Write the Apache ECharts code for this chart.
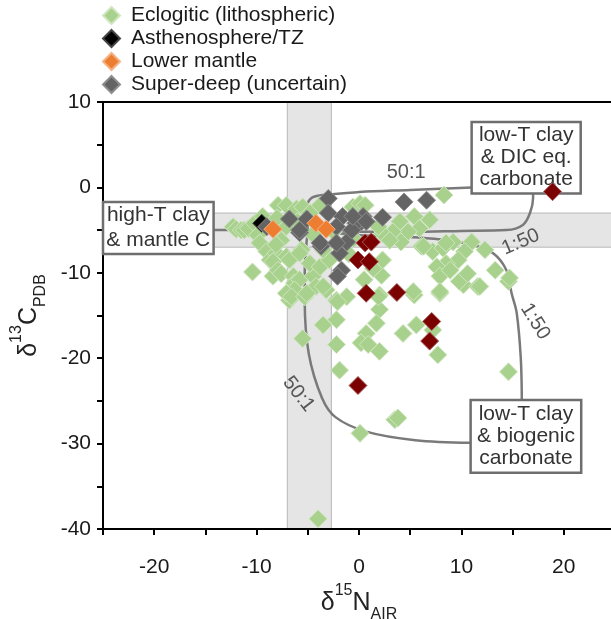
<!DOCTYPE html>
<html>
<head>
<meta charset="utf-8">
<script src="https://cdn.jsdelivr.net/npm/echarts@6/dist/echarts.min.js"></script>
<style>
html, body { margin: 0; padding: 0; background: #fff; }
#main { width: 611px; height: 619px; }
</style>
</head>
<body>
<div id="main"></div>
<script>
// data: [d15N, d13C]
var eclogitic = [
    [-12.3, -4.6], [-12.0, -4.9], [-11.5, -5.0], [-11.2, -5.0], [-10.8, -4.8], [-10.2, -4.2], [-9.9, -5.6], [-9.4, -3.4],
    [-10.4, -9.9],
    [-7.9, -2.1], [-7.1, -2.1], [-6.1, -2.5], [-5.5, -2.3], [-3.8, -2.1], [-7.1, -4.6], [-4.8, -3.0], [-0.6, -2.3], [0.1, -1.9], [0.6, -2.1],
    [-9.7, -6.5], [-9.0, -7.5], [-8.7, -8.5], [-8.4, -10.4], [-8.1, -7.7], [-7.6, -6.2], [-8.1, -6.7], [-7.1, -8.1], [-8.4, -8.7], [-7.9, -9.7],
    [-6.8, -8.5], [-5.6, -7.3], [-5.8, -7.7], [-7.6, -10.1], [-6.4, -10.4], [-6.3, -11.2], [-5.8, -10.8], [-6.6, -12.4], [-6.3, -12.0],
    [-6.8, -13.2], [-7.1, -12.4], [-6.6, -12.8], [-5.3, -12.8], [-4.5, -10.4], [-4.2, -11.6], [-5.1, -12.4], [-3.2, -12.0], [-3.5, -11.6],
    [-2.2, -13.2], [-1.2, -12.8], [-2.1, -13.4], [-4.8, -8.9], [-3.8, -9.3], [-2.9, -8.5], [-3.5, -7.3], [-4.5, -5.5], [-2.5, -5.2], [-6.0, -4.0], [-8.0, -3.6],
    [-3.5, -16.1], [-5.5, -17.7], [-2.2, -15.5], [-2.2, -18.4], [-1.9, -21.4], [-4.0, -38.8],
    [0.1, -28.8], [3.5, -27.2], [3.8, -27.0],
    [2.0, -14.3], [1.7, -15.9], [0.7, -17.1], [0.2, -18.2], [0.9, -18.4], [2.0, -19.2], [4.3, -17.1], [5.6, -16.1], [7.7, -19.6], [7.2, -16.7],
    [5.4, -12.6], [7.9, -12.4], [2.0, -12.6], [1.9, -12.8],
    [14.6, -21.6], [10.2, -11.4], [11.6, -11.6], [14.6, -11.0],
    [8.3, -0.9],
    [4.0, -4.0], [5.4, -3.4], [6.9, -3.8], [5.9, -4.8], [4.8, -5.2], [3.3, -5.2], [2.3, -5.4], [1.9, -4.6], [4.1, -6.4], [3.0, -6.2],
    [6.1, -6.9], [7.2, -7.5], [8.2, -7.1], [9.2, -6.4], [11.0, -6.4], [12.3, -7.3], [10.3, -7.5], [9.7, -8.5], [8.5, -8.9], [7.6, -9.3],
    [7.9, -10.4], [8.9, -9.7], [9.8, -11.0], [10.6, -10.1], [11.8, -11.6], [13.3, -9.7], [14.7, -10.6], [7.9, -12.2], [5.3, -12.2],
    [2.2, -10.3], [2.3, -8.5], [8.5, -6.5], [6.3, -6.9], [1.4, -9.5], [-0.5, -6.0], [-1.0, -7.8], [0.5, -10.8]
];
var asthenosphere = [[-9.5, -4.2]];
var lowerMantle = [[-8.4, -4.9], [-4.2, -4.2], [-3.2, -4.9]];
var superDeep = [
    [-3.0, -1.3], [-6.8, -3.7], [-9.0, -4.6], [-5.8, -5.3], [-5.1, -3.7], [-3.0, -3.0], [-1.6, -3.4], [-0.1, -4.4],
    [-2.2, -4.6], [-1.2, -6.4], [-3.7, -6.9], [-1.9, -7.7], [-1.7, -9.7], [-2.1, -10.4], [0.4, -3.4], [4.4, -1.7],
    [6.6, -1.5], [2.3, -3.5], [-0.3, -4.2], [-0.7, -5.0], [0.7, -4.0], [-0.6, -3.4], [-3.8, -6.5], [-2.2, -6.5], [-5.8, -5.0]
];
var otherDiamonds = [
    [18.9, -0.5], [0.6, -6.5], [1.2, -6.4], [-0.1, -8.5], [1.0, -8.7], [0.7, -12.4], [3.7, -12.3],
    [7.1, -15.7], [6.9, -18.0], [-0.1, -23.2]
];

// mixing curves
var curveUpper501 = [[-5, -5], [-5.1, -2.6], [-4.7, -1.3], [-3.5, -0.9], [0, -0.55], [5, -0.3], [11, 0]];
var curveUpper150 = [[-5, -5], [0, -5.2], [5, -5.2], [10, -5.1], [14.4, -5.0], [16.0, -4.4], [16.7, -3.0], [17.0, -1.2], [17.0, -0.65]];
var curveLower150 = [[-5, -5], [0, -5.6], [4.9, -5.8], [8, -6.1], [11, -6.7], [13.1, -7.7], [14.4, -9.7], [14.9, -12.4], [15.4, -14.7], [15.8, -20], [15.9, -24.9]];
var curveLower501 = [[-5, -5], [-5.3, -10], [-5.3, -13.2], [-4.9, -19.5], [-3.6, -24.7], [-2.3, -26.9], [0.7, -28.6], [5.5, -29.6], [10.9, -29.9]];
var connector = [[-14.2, -5], [-6, -5]];

// shaded mantle ranges [x1, y1, x2, y2]
var bands = [[-7, 10, -2.7, -40], [-25, -3, 25, -7]];

// end-member boxes [x1, y1, x2, y2]
var boxes = [[-25.0, -1.7, -14.2, -7.8], [11.0, 7.67, 21.65, -0.7], [10.9, -24.9, 21.7, -33.4]];
var boxTexts = ['high-T clay\n& mantle C', 'low-T clay\n& DIC eq.\ncarbonate', 'low-T clay\n& biogenic\ncarbonate'];
var boxLineHeights = [25, 22, 22];

// curve labels [x, y, angle]
var ratioLabels = [[4.6, 1.7, 0], [15.8, -6.4, 23], [17.2, -15.7, -58], [-5.9, -24.2, -52]];
var ratioTexts = ['50:1', '1:50', '1:50', '50:1'];

var xTicks = [-20, -10, 0, 10, 20];
var yTicks = [-40, -30, -20, -10, 0, 10];

var FONT = 'Liberation Sans';

var dom = document.getElementById('main');
var myChart = echarts.init(dom);

function curveSeries(data) {
    return {
        type: 'line',
        data: data,
        smooth: 0.35,
        symbol: 'none',
        silent: true,
        z: 2,
        lineStyle: { color: '#7a7a7a', width: 2.5 }
    };
}

function scatterSeries(name, data, fill, border, z) {
    return {
        name: name,
        type: 'scatter',
        data: data,
        symbol: 'diamond',
        symbolSize: 18,
        z: z,
        itemStyle: { color: fill, borderColor: border, borderWidth: 1, opacity: 1 }
    };
}

var nameRich = {
    m: { fontSize: 25, lineHeight: 40, verticalAlign: 'middle', fontFamily: FONT, color: '#222' },
    sup: { fontSize: 16, lineHeight: 16, verticalAlign: 'top', fontFamily: FONT, color: '#222' },
    sub: { fontSize: 16, lineHeight: 24, verticalAlign: 'bottom', fontFamily: FONT, color: '#222' }
};

var option = {
    animation: false,
    textStyle: { fontFamily: FONT },
    legend: {
        orient: 'vertical',
        left: 102,
        top: 5,
        padding: 0,
        itemWidth: 17,
        itemHeight: 17,
        itemGap: 2,
        icon: 'diamond',
        data: ['Eclogitic (lithospheric)', 'Asthenosphere/TZ', 'Lower mantle', 'Super-deep (uncertain)'],
        textStyle: { fontSize: 21, color: '#1a1a1a', fontFamily: FONT, padding: [0, 0, 0, 6] }
    },
    grid: { left: 103, top: 102, width: 512, height: 427, outerBoundsMode: 'none' },
    xAxis: [{
        type: 'value',
        min: -25,
        max: 25,
        interval: 5,
        z: 5,
        name: '{m|δ}{sup|15}{m|N}{sub|AIR}',
        nameLocation: 'middle',
        nameGap: 50,
        nameTextStyle: { fontSize: 25, lineHeight: 40, rich: nameRich },
        axisLine: { onZero: false, lineStyle: { color: '#000', width: 2 } },
        axisTick: { length: 6, lineStyle: { color: '#000', width: 2 } },
        axisLabel: {
            margin: 28,
            fontSize: 21,
            color: '#1a1a1a',
            fontFamily: FONT,
            formatter: function (v) { return xTicks.indexOf(v) >= 0 ? String(v) : ''; }
        },
        splitLine: { show: false }
    }, {
        type: 'value',
        position: 'top',
        min: -25,
        max: 25,
        z: 5,
        axisLine: { onZero: false, lineStyle: { color: '#000', width: 2 } },
        axisTick: { show: false },
        axisLabel: { show: false },
        splitLine: { show: false }
    }],
    yAxis: {
        type: 'value',
        min: -40,
        max: 10,
        interval: 5,
        z: 5,
        name: '{m|δ}{sup|13}{m|C}{sub|PDB}',
        nameLocation: 'middle',
        nameRotate: 90,
        nameGap: 54,
        nameTextStyle: { fontSize: 25, lineHeight: 40, rich: nameRich },
        axisLine: { onZero: false, lineStyle: { color: '#000', width: 2 } },
        axisTick: { length: 6, lineStyle: { color: '#000', width: 2 } },
        axisLabel: {
            margin: 12,
            fontSize: 21,
            color: '#1a1a1a',
            fontFamily: FONT,
            formatter: function (v) { return yTicks.indexOf(v) >= 0 ? String(v) : ''; }
        },
        splitLine: { show: false }
    },
    series: [
        {
            type: 'custom',
            silent: true,
            z: 1,
            data: bands,
            renderItem: function (params, api) {
                var p1 = api.coord([api.value(0), api.value(1)]);
                var p2 = api.coord([api.value(2), api.value(3)]);
                return {
                    type: 'rect',
                    shape: { x: p1[0], y: p1[1], width: p2[0] - p1[0], height: p2[1] - p1[1] },
                    style: { fill: '#e5e5e5', stroke: '#b8b8b8', lineWidth: 1 }
                };
            }
        },
        curveSeries(curveUpper501),
        curveSeries(curveUpper150),
        curveSeries(curveLower150),
        curveSeries(curveLower501),
        curveSeries(connector),
        {
            type: 'custom',
            silent: true,
            z: 6,
            data: boxes,
            renderItem: function (params, api) {
                var p1 = api.coord([api.value(0), api.value(1)]);
                var p2 = api.coord([api.value(2), api.value(3)]);
                var i = params.dataIndex;
                return {
                    type: 'group',
                    children: [{
                        type: 'rect',
                        shape: { x: p1[0], y: p1[1], width: p2[0] - p1[0], height: p2[1] - p1[1] },
                        style: { fill: '#fff', stroke: '#6e6e6e', lineWidth: 2.5 }
                    }, {
                        type: 'text',
                        x: (p1[0] + p2[0]) / 2,
                        y: (p1[1] + p2[1]) / 2,
                        style: {
                            text: boxTexts[i],
                            fill: '#333',
                            font: '21px "' + FONT + '"',
                            lineHeight: boxLineHeights[i],
                            align: 'center',
                            verticalAlign: 'middle'
                        }
                    }]
                };
            }
        },
        scatterSeries('Eclogitic (lithospheric)', eclogitic, '#a9d18e', '#cfe6c0', 7),
        scatterSeries('Asthenosphere/TZ', asthenosphere, '#000000', '#444444', 8),
        scatterSeries('Super-deep (uncertain)', superDeep, '#646464', '#8e8e8e', 8),
        scatterSeries('Lower mantle', lowerMantle, '#ed7d31', '#f4b183', 9),
        scatterSeries('other', otherDiamonds, '#7b0000', '#a65a5a', 9),
        {
            type: 'custom',
            silent: true,
            z: 10,
            data: ratioLabels,
            renderItem: function (params, api) {
                var p = api.coord([api.value(0), api.value(1)]);
                return {
                    type: 'text',
                    x: p[0],
                    y: p[1],
                    rotation: api.value(2) * Math.PI / 180,
                    style: {
                        text: ratioTexts[params.dataIndex],
                        fill: '#555',
                        font: '20px "' + FONT + '"',
                        align: 'center',
                        verticalAlign: 'middle'
                    }
                };
            }
        }
    ]
};

if (option && typeof option === 'object') {
    myChart.setOption(option);
}
</script>
</body>
</html>
